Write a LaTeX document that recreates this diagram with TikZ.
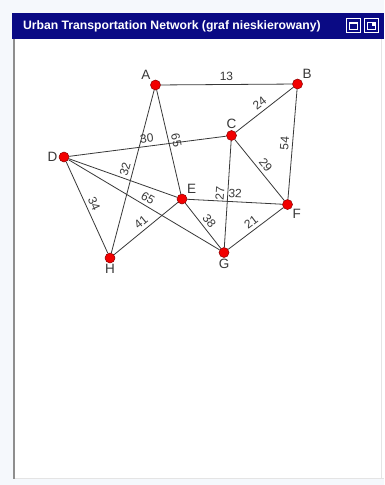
\documentclass[tikz,border=0pt]{standalone}
\usepackage{fontspec}
\setmainfont{Liberation Sans}
\usetikzlibrary{positioning}
\definecolor{TitleNavy}{HTML}{0A0A84}
\definecolor{PageTint}{HTML}{F5F8FC}
\definecolor{FrameGray}{HTML}{8E8E8E}
\definecolor{FrameLight}{HTML}{E4E4E4}
\definecolor{NodeRed}{HTML}{F20000}
\definecolor{NodeRim}{HTML}{8A0000}
\definecolor{RoadGray}{HTML}{383838}

\begin{document}
\begin{tikzpicture}[x=1pt,y=-1pt,
  every node/.style={font=\fontsize{12}{14}\selectfont},
  vertex/.style={circle,draw=NodeRim,fill=NodeRed,inner sep=0pt,minimum size=10pt,line width=0.5pt},
  tag/.style={font=\fontsize{13.5}{15}\selectfont,text=RoadGray,inner sep=1.2pt},
  weight/.style={sloped,above,inner sep=3.3pt,text=RoadGray},
  road/.style={draw=RoadGray,line width=0.8pt},
  winbtn/.style={draw=white,line width=0.9pt}
]
\useasboundingbox (0,0) rectangle (384,485);
\fill[PageTint] (0,0) rectangle (384,485);
% window
\fill[white] (13,39) rectangle (384,479);
\draw[FrameLight,line width=1pt] (13,478.5) -- (384,478.5);
\draw[FrameLight,line width=0.8pt] (381.5,39) -- (381.5,479);
\draw[FrameGray,line width=1.5pt] (14,39) -- (14,479);
\fill[TitleNavy] (12,13) rectangle (384,39);
\node[anchor=west,text=white,font=\bfseries\fontsize{12.2}{14}\selectfont] (title) at (19.5,26.5) {Urban Transportation Network (graf nieskierowany)};
\draw[winbtn] (346.5,18.5) rectangle (360.5,32.5);
\draw[winbtn] (349.5,22) rectangle (357.5,29.5);
\fill[white] (349.5,22) rectangle (357.5,24);
\draw[winbtn] (364.5,18.5) rectangle (378.5,32.5);
\draw[winbtn] (367.5,22) rectangle (375.5,29.5);
\fill[white] (371.5,22) rectangle (375.5,26);

% stations
\node[vertex,label={[tag]above left:A}] (A) at (155.5,85) {};
\node[vertex,label={[tag]above right:B}] (B) at (297.5,84) {};
\node[vertex,label={[tag]above:C}] (C) at (231.5,135.5) {};
\node[vertex,label={[tag]left:D}] (D) at (64,157) {};
\node[vertex,label={[tag]above right:E}] (E) at (182,199) {};
\node[vertex,label={[tag]below right:F}] (F) at (287.5,204.5) {};
\node[vertex,label={[tag]below:G}] (G) at (224,252.5) {};
\node[vertex,label={[tag]below:H}] (H) at (110,258) {};

% roads
\draw[road] (A) -- node[weight]{13} (B);
\draw[road] (C) -- node[weight]{24} (B);
\draw[road] (F) -- node[weight]{54} (B);
\draw[road] (C) -- node[weight]{29} (F);
\draw[road] (G) -- node[weight]{27} (C);
\draw[road] (D) -- node[weight]{30} (C);
\draw[road] (A) -- node[weight]{65} (E);
\draw[road] (H) -- node[weight]{32} (A);
\draw[road] (D) -- (E);
\draw[road] (D) -- node[weight]{65} (G);
\draw[road] (D) -- node[weight]{34} (H);
\draw[road] (E) -- node[weight]{32} (F);
\draw[road] (E) -- node[weight]{38} (G);
\draw[road] (H) -- node[weight]{41} (E);
\draw[road] (G) -- node[weight]{21} (F);
\end{tikzpicture}
\end{document}
